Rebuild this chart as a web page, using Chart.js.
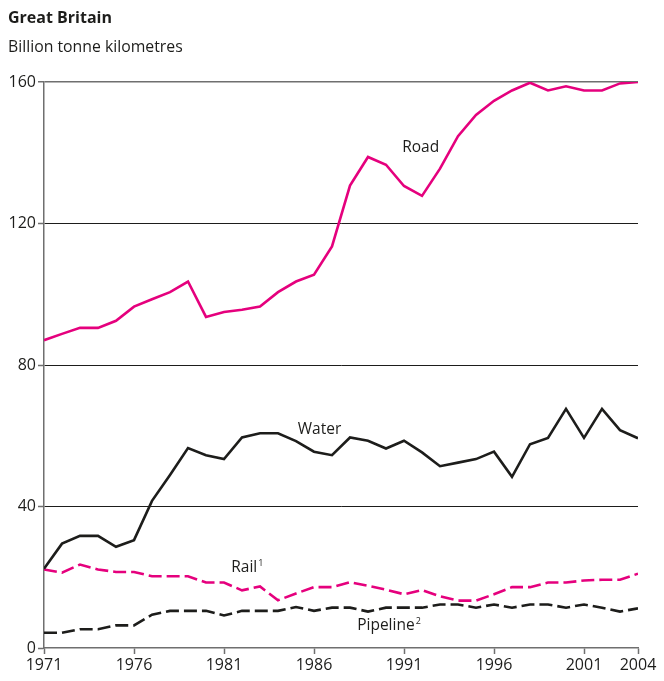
<!DOCTYPE html>
<html>
<head>
<meta charset="utf-8">
<script src="https://cdn.jsdelivr.net/npm/chart.js@4.4.1/dist/chart.umd.min.js"></script>
<style>
  html, body { margin: 0; padding: 0; background: #fff; }
  #wrap { position: relative; width: 664px; height: 681px; }
</style>
</head>
<body>
<div id="wrap"><canvas id="freight" width="664" height="681"></canvas></div>
<script>
const years = [];
for (let y = 1971; y <= 2004; y++) years.push(y);

const road = [87, 88.8, 90.5, 90.5, 92.5, 96.5, 98.6, 100.6, 103.6, 93.6, 95, 95.6, 96.5, 100.6, 103.6, 105.5, 113.5,
    130.7, 138.8, 136.6, 130.6, 127.8, 135.5, 144.7, 150.7, 154.7, 157.6, 159.8, 157.6, 158.8, 157.6, 157.6, 159.6, 160];
const water = [22.4, 29.5, 31.7, 31.7, 28.6, 30.5, 41.6, 48.9, 56.5, 54.5, 53.4, 59.5, 60.7, 60.7, 58.5, 55.5, 54.5,
    59.5, 58.6, 56.4, 58.6, 55.3, 51.4, 52.4, 53.4, 55.5, 48.4, 57.6, 59.4, 67.6, 59.4, 67.6, 61.6, 59.3];
const rail = [22.2, 21.3, 23.6, 22.2, 21.5, 21.5, 20.3, 20.3, 20.3, 18.5, 18.5, 16.3, 17.4, 13.5, 15.4, 17.2, 17.2,
    18.6, 17.6, 16.5, 15.2, 16.4, 14.6, 13.4, 13.4, 15.2, 17.2, 17.2, 18.5, 18.5, 19.1, 19.3, 19.3, 21];
const pipeline = [4.3, 4.3, 5.3, 5.3, 6.4, 6.4, 9.4, 10.5, 10.5, 10.5, 9.2, 10.5, 10.5, 10.5, 11.6, 10.5, 11.4,
    11.4, 10.3, 11.4, 11.4, 11.4, 12.3, 12.3, 11.4, 12.3, 11.4, 12.3, 12.3, 11.4, 12.3, 11.4, 10.3, 11.2];

const xTicks = [1971, 1976, 1981, 1986, 1991, 1996, 2001, 2004];
const yTicks = [0, 40, 80, 120, 160];

const PINK = '#e5007d';
const INK = '#1d1d1b';
const AXIS = '#6f6f6f';
const FONT = '"Open Sans", "Noto Sans", sans-serif';

function points(values) {
    return values.map((v, i) => ({x: years[i], y: v}));
}

// series names written inside the plot, anchored in data units
const seriesLabels = [
    {text: 'Road', x: 1990.9, y: 141.5},
    {text: 'Water', x: 1985.1, y: 61.8},
    {text: 'Rail', sup: '1', x: 1981.4, y: 22.6},
    {text: 'Pipeline', sup: '2', x: 1988.4, y: 6.2}
];

const textPlugin = {
    id: 'textPlugin',
    afterDraw(chart) {
        const ctx = chart.ctx;
        const xs = chart.scales.x, ys = chart.scales.y;
        ctx.save();
        ctx.fillStyle = INK;
        ctx.textBaseline = 'middle';
        ctx.textAlign = 'left';
        ctx.font = 'bold 16px ' + FONT;
        ctx.fillText('Great Britain', 8, 18);
        ctx.font = '15.8px ' + FONT;
        ctx.fillText('Billion tonne kilometres', 8, 47);

        seriesLabels.forEach(l => {
            const px = xs.getPixelForValue(l.x);
            const py = ys.getPixelForValue(l.y);
            ctx.font = '15.5px ' + FONT;
            ctx.fillText(l.text, px, py);
            if (l.sup) {
                const w = ctx.measureText(l.text).width;
                ctx.font = '9px ' + FONT;
                ctx.fillText(l.sup, px + w + 1, py - 5);
            }
        });
        ctx.restore();
    }
};

new Chart(document.getElementById('freight'), {
    type: 'line',
    data: {
        datasets: [
            {label: 'Road', data: points(road), borderColor: PINK, borderWidth: 2.6},
            {label: 'Water', data: points(water), borderColor: INK, borderWidth: 2.6},
            {label: 'Rail', data: points(rail), borderColor: PINK, borderWidth: 2.6, borderDash: [13, 5]},
            {label: 'Pipeline', data: points(pipeline), borderColor: INK, borderWidth: 2.6, borderDash: [13, 5]}
        ]
    },
    options: {
        responsive: false,
        animation: false,
        layout: {padding: {left: 8, right: 26, top: 82, bottom: 3}},
        elements: {
            point: {radius: 0},
            line: {tension: 0, borderCapStyle: 'butt', borderJoinStyle: 'miter'}
        },
        plugins: {
            legend: {display: false},
            tooltip: {enabled: false}
        },
        scales: {
            x: {
                type: 'linear',
                min: 1971,
                max: 2004,
                afterBuildTicks: s => { s.ticks = xTicks.map(v => ({value: v})); },
                afterFit: s => { s.height = 30; },
                border: {color: AXIS, width: 1.5},
                grid: {drawOnChartArea: false, drawTicks: true, tickLength: 6, tickColor: AXIS, tickWidth: 1.5},
                ticks: {color: INK, font: {family: FONT, size: 16}, padding: 2, maxRotation: 0,
                        callback: v => String(v)}
            },
            y: {
                min: 0,
                max: 160,
                afterBuildTicks: s => { s.ticks = yTicks.map(v => ({value: v})); },
                afterFit: s => { s.width = 36; },
                border: {color: AXIS, width: 1.5},
                grid: {
                    color: c => c.tick.value === 160 ? AXIS : (c.tick.value === 0 ? 'rgba(0,0,0,0)' : INK),
                    lineWidth: c => c.tick.value === 160 ? 1.5 : 1,
                    tickLength: 6,
                    tickColor: AXIS,
                    tickWidth: 1.5
                },
                ticks: {color: INK, font: {family: FONT, size: 16}, padding: 2}
            }
        }
    },
    plugins: [textPlugin]
});
</script>
</body>
</html>
